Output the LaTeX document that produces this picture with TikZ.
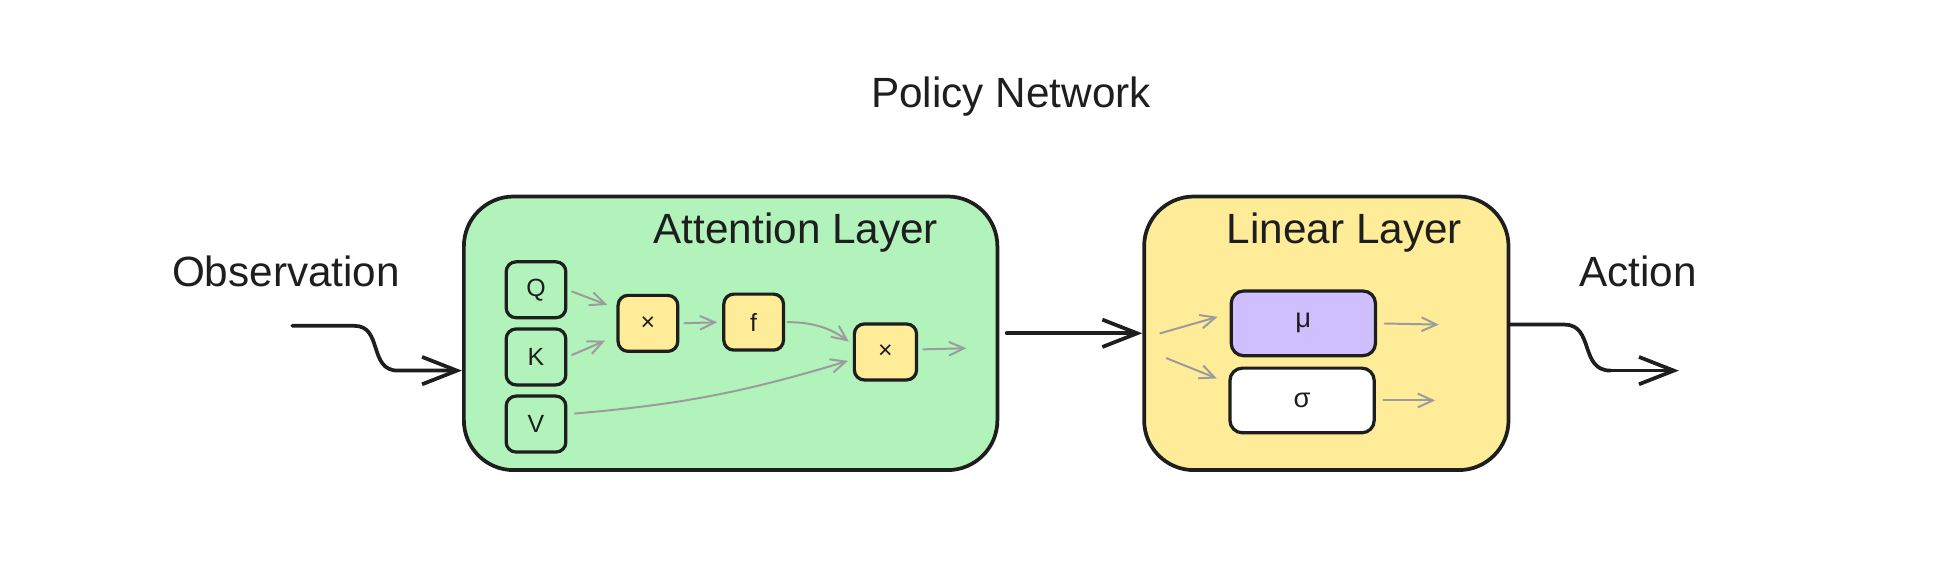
\documentclass[tikz,border=0pt]{standalone}
\usepackage{fontspec}
\setmainfont{Liberation Sans}
\usetikzlibrary{arrows.meta}
\definecolor{ink}{HTML}{1E1E1E}
\definecolor{attngreen}{HTML}{B2F2BB}
\definecolor{linyellow}{HTML}{FFEC99}
\definecolor{mupurple}{HTML}{D0BFFF}
\definecolor{flowgray}{HTML}{9C9C9C}
\begin{document}
\begin{tikzpicture}[x=0.5pt,y=-0.5pt,
    every node/.append style={inner sep=0pt,text=ink},
    titletext/.style={font=\fontsize{17}{20}\selectfont},
    layerbox/.style={draw=ink,line width=1.5pt,rounded corners=20pt,minimum height=110pt},
    opbox/.style={draw=ink,line width=1.3pt,rounded corners=4pt,minimum width=24pt,minimum height=22.5pt,font=\fontsize{10}{12}\selectfont},
    headbox/.style={draw=ink,line width=1.3pt,rounded corners=5pt,minimum width=58pt,minimum height=26pt,font=\fontsize{11}{13}\selectfont},
    bigarrow/.style={draw=ink,line width=1.5pt,line cap=round,-{Straight Barb[length=14pt,width=11pt]}},
    flowarrow/.style={draw=flowgray,line width=0.8pt,line cap=round,-{Straight Barb[length=6pt,width=5.5pt]}}]
    \useasboundingbox (0,0) rectangle (1568,452);
    % titles
    \node[titletext] (title) at (813,78) {Policy Network};
    \node[titletext] (obs) at (230,218) {Observation};
    \node[titletext] (act) at (1317,218) {Action};
    % attention layer
    \node[layerbox,fill=attngreen,minimum width=214.5pt] (attn) at (587.5,268) {};
    \node[titletext] (attntitle) at (640,187) {Attention Layer};
    \node[opbox] (q) at (431,233) {Q};
    \node[opbox] (k) at (431,287) {K};
    \node[opbox] (v) at (431,341) {V};
    \node[opbox,fill=linyellow] (mul1) at (521,260) {×};
    \node[opbox,fill=linyellow] (soft) at (606,259) {f};
    \node[opbox,fill=linyellow,minimum width=25pt] (mul2) at (712,283) {×};
    \coordinate (attnout) at (777,280);
    % linear layer
    \node[layerbox,fill=linyellow,minimum width=146.5pt] (lin) at (1066.5,268) {};
    \node[titletext] (lintitle) at (1081,187) {Linear Layer};
    \node[headbox,fill=mupurple] (mu) at (1048,260) {μ};
    \node[headbox,fill=white] (sigma) at (1047,322) {σ};
    \coordinate (linin1) at (933,268);
    \coordinate (linin2) at (938,288);
    \coordinate (muout) at (1157,261);
    \coordinate (sigmaout) at (1154,322);
    % outer connectors
    \coordinate (obsstart) at (235,262);
    \coordinate (actend) at (1350,298);
    \draw[bigarrow] (obsstart) -- (285,262) .. controls (308,262) and (296,298) .. (320,298) -- (attn.west |- 0,298);
    \draw[bigarrow,shorten <=3pt] (attn.east) -- (lin.west);
    \draw[bigarrow,-] (lin.east |- 0,261) -- (1258,261) .. controls (1282,261) and (1270,298) .. (1295,298);
    \draw[bigarrow] (1295,298) -- (actend);
    % inner connectors
    \draw[flowarrow,shorten <=2pt,shorten >=4pt] (q.east) -- ([yshift=6pt]mul1.west);
    \draw[flowarrow,shorten <=2pt,shorten >=5pt] (k.east) -- ([yshift=-5pt]mul1.west);
    \draw[flowarrow,shorten <=2pt,shorten >=2pt] (mul1.east) -- (soft.west);
    \draw[flowarrow,shorten <=1pt,shorten >=2pt] (soft.east) to[bend left=18] ([yshift=3pt]mul2.west);
    \draw[flowarrow,shorten <=3pt,shorten >=2pt] ([yshift=4pt]v.east) to[bend right=6] ([yshift=-3pt]mul2.west);
    \draw[flowarrow,shorten <=2pt] ([yshift=1pt]mul2.east) -- (attnout);
    \draw[flowarrow,shorten >=5pt] (linin1) -- ([yshift=4pt]mu.west);
    \draw[flowarrow,shorten >=5pt] (linin2) -- ([yshift=7pt]sigma.west);
    \draw[flowarrow,shorten <=3pt] (mu.east) -- (muout);
    \draw[flowarrow,shorten <=3pt] (sigma.east) -- (sigmaout);
\end{tikzpicture}
\end{document}
